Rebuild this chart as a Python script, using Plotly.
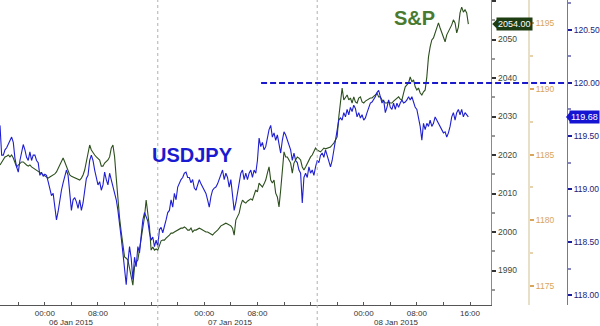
import pandas as pd
import plotly.graph_objects as go

# ---- data ----
start_time = "2015-01-05 17:15"
step = "15min"

spx = [
    2017.4, 2018.2, 2018.7, 2019.5, 2019.7, 2020.0, 2019.5, 2020.0, 2019.2, 2017.7,
    2016.9, 2017.4, 2017.9, 2018.2, 2018.2, 2017.7, 2017.4, 2017.1, 2017.4, 2016.9,
    2016.6, 2016.4, 2016.1, 2015.6, 2015.3, 2015.1, 2014.8, 2014.5, 2014.3, 2014.0,
    2014.3, 2014.5, 2014.8, 2015.1, 2015.6, 2016.4, 2017.4, 2018.4, 2019.2, 2018.2,
    2016.9, 2015.8, 2014.8, 2014.5, 2014.3, 2014.0, 2014.0, 2013.8, 2013.5, 2014.0,
    2014.8, 2016.1, 2018.2, 2020.5, 2022.6, 2021.3, 2020.5, 2020.0, 2019.5, 2019.2,
    2018.7, 2017.1, 2017.1, 2017.9, 2018.2, 2018.7, 2019.5, 2021.8, 2022.6, 2019.5,
    2014.0, 2007.8, 2003.6, 2000.0, 1996.6, 1993.5, 1993.2, 1992.7, 1990.6, 1988.6,
    1986.2, 1990.9, 1992.2, 1992.7, 1995.3, 1997.9, 2000.5, 2003.9, 2008.3, 2004.9,
    2001.3, 1995.3, 1996.1, 1995.3, 1995.6, 1995.3, 1996.6, 1997.7, 1997.9, 1997.9,
    1998.4, 1998.7, 1999.2, 1999.7, 1999.7, 2000.0, 2000.3, 2000.5, 2000.8, 2001.0,
    2001.0, 2001.3, 2001.0, 2000.5, 2000.5, 2001.0, 2000.0, 2000.5, 2000.5, 2000.8,
    2001.0, 2000.8, 2000.5, 2000.3, 2000.0, 2000.0, 1999.7, 1999.5, 1999.2, 1999.7,
    2000.0, 2000.5, 2001.0, 2001.6, 2001.8, 2002.1, 2002.3, 2002.1, 2001.8, 2001.6,
    2001.0, 1999.2, 2003.1, 2003.9, 2004.9, 2007.0, 2008.3, 2007.8, 2007.5, 2008.0,
    2008.3, 2008.6, 2008.3, 2009.6, 2010.9, 2010.4, 2012.7, 2012.2, 2011.7, 2012.5,
    2013.5, 2015.3, 2016.9, 2013.5, 2012.7, 2013.5, 2010.1, 2009.1, 2006.5, 2010.9,
    2016.1, 2020.8, 2019.5, 2019.5, 2018.7, 2017.9, 2015.3, 2017.9, 2018.7, 2019.5,
    2019.2, 2018.7, 2016.9, 2016.1, 2016.9, 2017.9, 2018.7, 2019.5, 2020.0, 2020.8,
    2021.8, 2021.3, 2021.0, 2020.8, 2021.3, 2021.8, 2021.6, 2021.8, 2022.1, 2022.1,
    2022.6, 2023.1, 2023.9, 2024.7, 2029.9, 2034.3, 2037.4, 2034.3, 2035.1, 2035.6,
    2034.3, 2034.8, 2033.5, 2035.1, 2033.8, 2033.5, 2034.8, 2035.1, 2033.8, 2033.5,
    2034.0, 2034.3, 2034.5, 2034.8, 2034.8, 2035.1, 2035.6, 2036.1, 2035.1, 2035.1,
    2034.3, 2034.0, 2033.5, 2033.5, 2033.8, 2033.5, 2033.5, 2034.0, 2034.3, 2034.8,
    2035.1, 2034.5, 2034.3, 2036.1, 2037.7, 2038.2, 2038.7, 2040.3, 2039.0, 2039.5,
    2037.7, 2036.9, 2037.4, 2036.1, 2035.6, 2036.4, 2036.9, 2040.3, 2045.5, 2048.1,
    2049.9, 2050.4, 2051.7, 2053.2, 2054.3, 2053.0, 2051.7, 2050.4, 2049.4, 2051.2,
    2052.0, 2053.2, 2053.8, 2055.1, 2054.3, 2051.7, 2053.2, 2056.9, 2058.4, 2057.1,
    2057.7, 2056.9, 2054.0,
]

usdjpy = [
    119.60, 119.32, 119.32, 119.37, 119.39, 119.42, 119.46, 119.49, 119.44, 119.29,
    119.21, 119.16, 119.27, 119.35, 119.42, 119.37, 119.30, 119.27, 119.35, 119.27,
    119.32, 119.32, 119.27, 119.25, 119.13, 119.16, 119.12, 119.14, 119.13, 119.07,
    118.99, 118.94, 118.96, 118.85, 118.71, 118.79, 118.90, 118.99, 119.06, 119.13,
    119.18, 119.13, 118.99, 118.80, 118.90, 118.92, 118.88, 118.82, 118.90, 118.80,
    118.87, 118.99, 119.10, 119.13, 119.27, 119.32, 119.27, 119.18, 119.10, 119.04,
    119.07, 118.99, 119.04, 119.16, 119.09, 119.04, 119.15, 119.09, 119.03, 118.96,
    118.90, 118.80, 118.64, 118.54, 118.40, 118.27, 118.10, 118.31, 118.46, 118.35,
    118.15, 118.36, 118.27, 118.46, 118.40, 118.56, 118.71, 118.78, 118.74, 118.70,
    118.59, 118.52, 118.55, 118.46, 118.52, 118.46, 118.62, 118.64, 118.59, 118.64,
    118.71, 118.78, 118.80, 118.90, 118.83, 118.96, 118.90, 119.02, 119.06, 119.09,
    119.11, 119.15, 119.16, 119.11, 119.11, 119.06, 119.09, 119.01, 118.99, 119.04,
    119.09, 119.05, 119.02, 118.99, 118.96, 118.90, 118.83, 118.93, 118.99, 119.01,
    119.02, 119.05, 119.09, 119.13, 119.18, 119.09, 119.15, 119.11, 119.02, 119.09,
    118.93, 118.80, 118.87, 118.96, 119.09, 119.15, 119.18, 119.09, 119.15, 119.09,
    119.15, 119.18, 119.11, 119.18, 119.15, 119.27, 119.48, 119.40, 119.44, 119.37,
    119.40, 119.49, 119.56, 119.60, 119.49, 119.53, 119.46, 119.51, 119.40, 119.34,
    119.46, 119.54, 119.51, 119.46, 119.42, 119.37, 119.27, 119.34, 119.27, 119.25,
    119.18, 119.15, 118.87, 119.11, 119.15, 119.11, 119.21, 119.15, 119.18, 119.13,
    119.21, 119.27, 119.25, 119.32, 119.34, 119.30, 119.37, 119.32, 119.27, 119.21,
    119.27, 119.37, 119.46, 119.53, 119.65, 119.67, 119.65, 119.72, 119.68, 119.75,
    119.70, 119.77, 119.73, 119.79, 119.76, 119.68, 119.72, 119.67, 119.70, 119.65,
    119.67, 119.72, 119.77, 119.81, 119.82, 119.84, 119.87, 119.91, 119.93, 119.87,
    119.81, 119.84, 119.72, 119.77, 119.84, 119.77, 119.75, 119.81, 119.75, 119.81,
    119.77, 119.81, 119.84, 119.81, 119.82, 119.84, 119.87, 119.84, 119.87, 119.82,
    119.77, 119.75, 119.68, 119.59, 119.46, 119.62, 119.56, 119.62, 119.59, 119.65,
    119.59, 119.62, 119.68, 119.65, 119.62, 119.59, 119.56, 119.53, 119.54, 119.49,
    119.53, 119.59, 119.68, 119.72, 119.65, 119.72, 119.75, 119.70, 119.75, 119.68,
    119.72, 119.70, 119.68,
]

time_tick_vals = ["2015-01-06 00:00", "2015-01-06 08:00", "2015-01-07 00:00",
                  "2015-01-07 08:00", "2015-01-08 00:00", "2015-01-08 08:00",
                  "2015-01-08 16:00"]
time_tick_text = ["00:00", "08:00", "00:00", "08:00", "00:00", "08:00", "16:00"]
day_labels = ["06 Jan 2015", "07 Jan 2015", "08 Jan 2015"]
day_label_pos = ["2015-01-06 04:00", "2015-01-07 04:00", "2015-01-08 05:00"]
session_breaks = ["2015-01-06 17:00", "2015-01-07 17:00"]
x_range = ["2015-01-05 17:15", "2015-01-08 19:12"]

spx_range = [1981.04, 2060.26]
tan_range = [1173.56, 1196.75]
jpy_range = [117.91, 120.78]
spx_last = 2054.00
jpy_last = 119.68
jpy_level = 120.00

assert len(spx) == len(usdjpy)
times = pd.date_range(start_time, periods=len(spx), freq=step)

# ---- styling ----
FONT = "Liberation Sans, Arial, sans-serif"
BLUE = "#1f1fcf"
GREEN = "#2c4f1d"
W, H = 600, 326
L, R, T, B = 0, 31, 0, 21
plot_w = W - L - R
plot_h = H - T - B
x_dom_end = 493 / plot_w

fig = go.Figure()
fig.add_trace(go.Scatter(x=[], y=[], yaxis="y2", showlegend=False, hoverinfo="skip"))
fig.add_trace(go.Scatter(x=times, y=spx, mode="lines", yaxis="y",
                         line=dict(color=GREEN, width=1.1), showlegend=False))
fig.add_trace(go.Scatter(x=times, y=usdjpy, mode="lines", yaxis="y3",
                         line=dict(color=BLUE, width=1.1), showlegend=False))

tickfont = dict(family=FONT, size=8.5)

fig.update_layout(
    width=W, height=H,
    margin=dict(l=L, r=R, t=T, b=B, pad=0),
    paper_bgcolor="white", plot_bgcolor="white",
    showlegend=False,
    xaxis=dict(
        domain=[0, x_dom_end], type="date", range=x_range,
        tickmode="array", tickvals=time_tick_vals, ticktext=time_tick_text,
        ticks="inside", ticklen=3, tickcolor="#555", tickwidth=1,
        minor=dict(dtick=4 * 3600 * 1000, tick0="2015-01-06", ticks="inside",
                   ticklen=3, tickcolor="#555", showgrid=False),
        showline=True, linecolor="#555", linewidth=1,
        showgrid=False, zeroline=False,
        tickfont=dict(family=FONT, size=8, color="#333"),
    ),
    yaxis=dict(
        side="right", anchor="x", range=spx_range,
        tickvals=[1990, 2000, 2010, 2020, 2030, 2040, 2050, 2060],
        ticks="outside", ticklen=4, tickwidth=2, tickcolor="#333",
        minor=dict(dtick=5, ticks="outside", ticklen=3, tickcolor="#999", showgrid=False),
        showline=True, linecolor="#8a8a8a", linewidth=1,
        showgrid=False, zeroline=False,
        tickfont=dict(tickfont, color="#3b4a3b"),
    ),
    yaxis2=dict(
        side="right", overlaying="y", anchor="free", position=531 / plot_w,
        range=tan_range, tickvals=[1175, 1180, 1185, 1190, 1195],
        ticks="outside", ticklen=4, tickwidth=2, tickcolor="#d9a55a",
        minor=dict(dtick=2.5, ticks="outside", ticklen=3, tickcolor="#e6d2ad", showgrid=False),
        showline=True, linecolor="#e8dfc9", linewidth=2,
        showgrid=False, zeroline=False,
        tickfont=dict(tickfont, color="#d9a55a"),
    ),
    yaxis3=dict(
        side="right", overlaying="y", anchor="free", position=1.0,
        range=jpy_range, tickvals=[118.0, 118.5, 119.0, 119.5, 120.0, 120.5],
        tickformat=".2f",
        ticks="outside", ticklen=4, tickwidth=2, tickcolor="#1a1a9a",
        minor=dict(dtick=0.25, ticks="outside", ticklen=3, tickcolor="#8888c0", showgrid=False),
        showline=True, linecolor="#7373b5", linewidth=1,
        showgrid=False, zeroline=False,
        tickfont=dict(tickfont, color="#22227a"),
    ),
)

shapes = []
for sb in session_breaks:
    shapes.append(dict(type="line", xref="x", yref="paper", x0=sb, x1=sb,
                       y0=-B / plot_h, y1=1,
                       line=dict(color="#b0b0b0", width=1, dash="dot")))
# horizontal USDJPY 120.00 level
shapes.append(dict(type="line", xref="paper", yref="y3",
                   x0=262 / plot_w, x1=1.0, y0=jpy_level, y1=jpy_level,
                   line=dict(color="#1a1acc", width=2, dash="6px,3px")))
# arrow tips of last-value labels
shapes.append(dict(type="path", xref="paper", yref="y",
                   path=f"M {494/plot_w},{spx_last} L {499/plot_w},{spx_last+1.25} "
                        f"L {499/plot_w},{spx_last-1.25} Z",
                   fillcolor="#1f3d12", line=dict(width=0)))
shapes.append(dict(type="path", xref="paper", yref="y3",
                   path=f"M {568/plot_w},{jpy_last} L {572/plot_w},{jpy_last+0.045} "
                        f"L {572/plot_w},{jpy_last-0.045} Z",
                   fillcolor="#1414d2", line=dict(width=0)))
fig.update_layout(shapes=shapes)

ann = []
ann.append(dict(xref="paper", yref="y", x=498 / plot_w, y=spx_last, xanchor="left",
                yanchor="middle", text=f"{spx_last:.2f}", showarrow=False,
                bgcolor="#1f3d12", borderpad=1,
                font=dict(family=FONT, size=9, color="white")))
ann.append(dict(xref="paper", yref="y3", x=571 / plot_w, y=jpy_last, xanchor="left",
                yanchor="middle", text=f"{jpy_last:.2f}", showarrow=False,
                bgcolor="#1414d2", borderpad=1,
                font=dict(family=FONT, size=9, color="white")))
for lab, pos in zip(day_labels, day_label_pos):
    ann.append(dict(xref="x", yref="paper", x=pos, y=-17 / plot_h,
                    xanchor="center", yanchor="middle", text=lab, showarrow=False,
                    font=dict(family=FONT, size=8, color="#333")))
ann.append(dict(xref="x", yref="y3", x="2015-01-06 22:12", y=119.32, text="<b>USDJPY</b>",
                showarrow=False, xanchor="center", yanchor="middle",
                font=dict(family=FONT, size=20, color="#1a1ad0")))
ann.append(dict(xref="x", yref="y", x="2015-01-08 07:39", y=2055.6, text="<b>S&P</b>",
                showarrow=False, xanchor="center", yanchor="middle",
                font=dict(family=FONT, size=20, color="#4a7a30")))
fig.update_layout(annotations=ann)

fig.write_html("out.html")
